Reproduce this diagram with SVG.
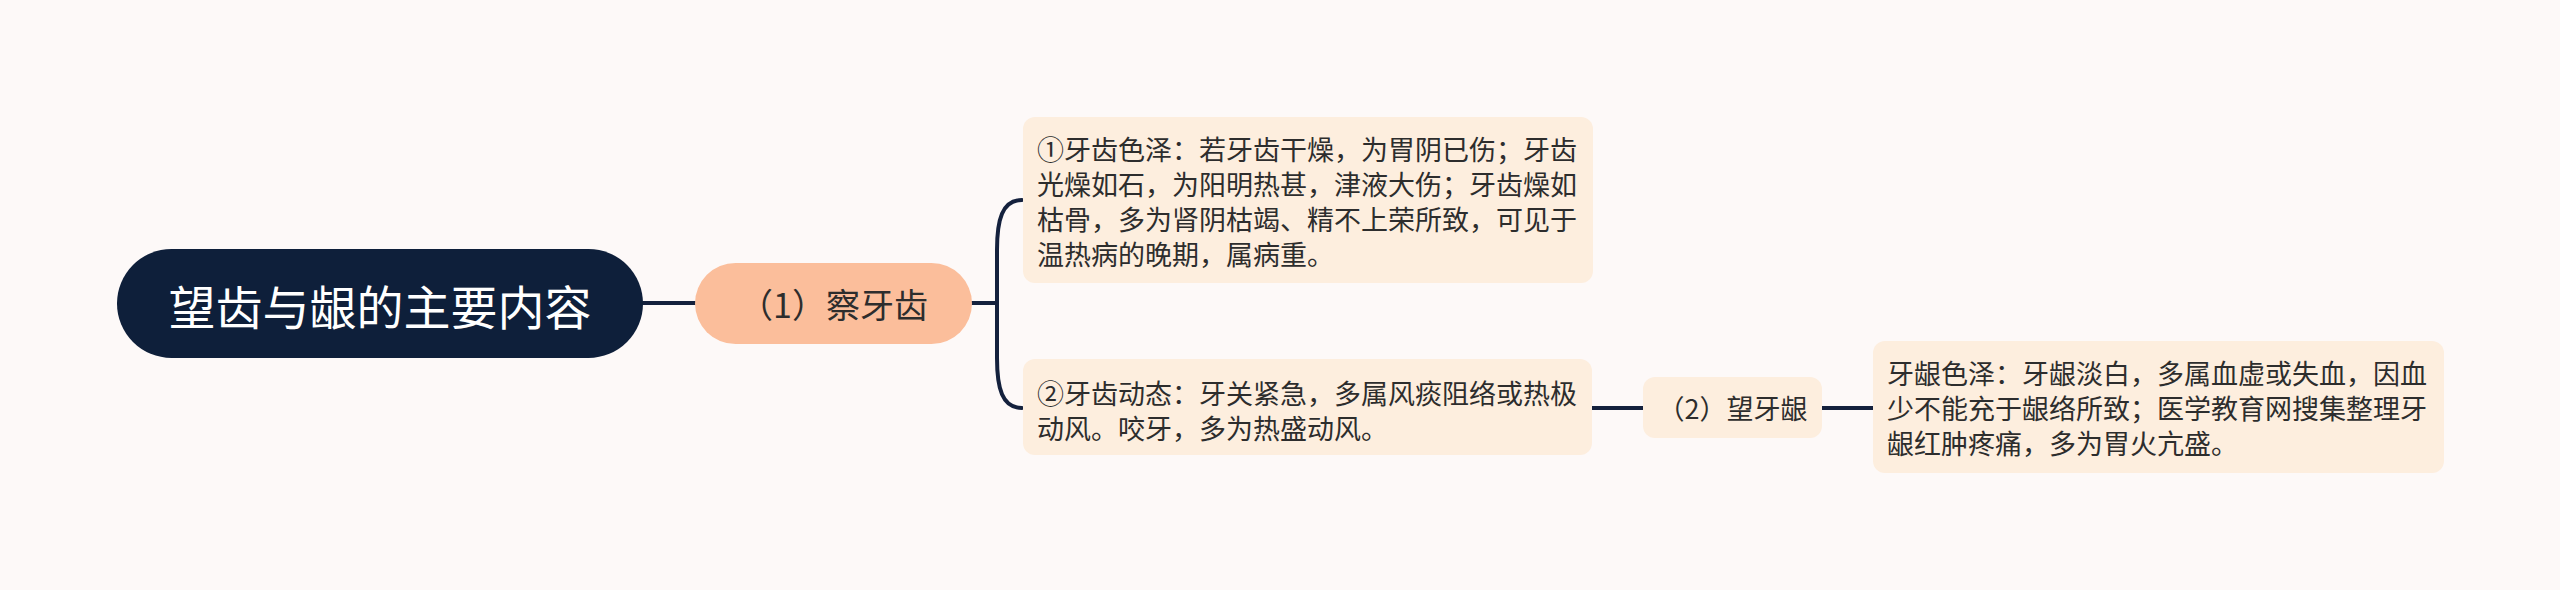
<svg xmlns="http://www.w3.org/2000/svg" width="2560" height="590" viewBox="0 0 2560 590">
  <style>
    .bg { fill: #fdf9f8; }
    .conn { fill: none; stroke: #14213d; stroke-width: 4; stroke-linecap: round; }
    .root-box { fill: #0e1f3a; }
    .l1-box { fill: #fbbe9b; }
    .leaf-box { fill: #fdeede; }
    .txt { font-family: "Noto Sans CJK SC", "Noto Sans", sans-serif; fill: #2d2d2d; }
    .root-txt { font-family: "Noto Sans CJK SC", "Noto Sans", sans-serif; fill: #ffffff; font-size: 47px; }
    .leaf-txt { font-size: 27px; }
  </style>
  <rect class="bg" x="0" y="0" width="2560" height="590"/>

  <g id="connectors">
    <line class="conn" x1="643" y1="303" x2="695" y2="303"/>
    <line class="conn" x1="972" y1="303" x2="997" y2="303"/>
    <path class="conn" d="M 1022 200 C 1002 200, 997 220, 997 250 L 997 358 C 997 388, 1002 408, 1022 408"/>
    <line class="conn" x1="1592" y1="408" x2="1643" y2="408"/>
    <line class="conn" x1="1822" y1="408" x2="1873" y2="408"/>
  </g>

  <g id="root">
    <rect class="root-box" x="117" y="249" width="526" height="109" rx="54.5"/>
    <text class="root-txt" x="380" y="304" text-anchor="middle" dominant-baseline="central">望齿与龈的主要内容</text>
  </g>

  <g id="node-cha-ya-chi">
    <rect class="l1-box" x="695" y="263" width="277" height="81" rx="40.5"/>
    <text class="txt" x="833.5" y="303" font-size="34" text-anchor="middle" dominant-baseline="central">（1）察牙齿</text>
  </g>

  <g id="node-ya-chi-se-ze">
    <rect class="leaf-box" x="1023" y="117" width="570" height="166" rx="12"/>
    <text class="txt leaf-txt" dominant-baseline="central">
      <tspan x="1037" y="148">①牙齿色泽：若牙齿干燥，为胃阴已伤；牙齿</tspan>
      <tspan x="1037" y="183">光燥如石，为阳明热甚，津液大伤；牙齿燥如</tspan>
      <tspan x="1037" y="218">枯骨，多为肾阴枯竭、精不上荣所致，可见于</tspan>
      <tspan x="1037" y="253">温热病的晚期，属病重。</tspan>
    </text>
  </g>

  <g id="node-ya-chi-dong-tai">
    <rect class="leaf-box" x="1023" y="359" width="569" height="96" rx="12"/>
    <text class="txt leaf-txt" dominant-baseline="central">
      <tspan x="1037" y="392">②牙齿动态：牙关紧急，多属风痰阻络或热极</tspan>
      <tspan x="1037" y="427">动风。咬牙，多为热盛动风。</tspan>
    </text>
  </g>

  <g id="node-wang-ya-yin">
    <rect class="leaf-box" x="1643" y="377" width="179" height="61" rx="12"/>
    <text class="txt leaf-txt" x="1732.5" y="407" text-anchor="middle" dominant-baseline="central">（2）望牙龈</text>
  </g>

  <g id="node-ya-yin-se-ze">
    <rect class="leaf-box" x="1873" y="341" width="571" height="132" rx="12"/>
    <text class="txt leaf-txt" dominant-baseline="central">
      <tspan x="1887" y="372">牙龈色泽：牙龈淡白，多属血虚或失血，因血</tspan>
      <tspan x="1887" y="407">少不能充于龈络所致；医学教育网搜集整理牙</tspan>
      <tspan x="1887" y="442">龈红肿疼痛，多为胃火亢盛。</tspan>
    </text>
  </g>
</svg>
